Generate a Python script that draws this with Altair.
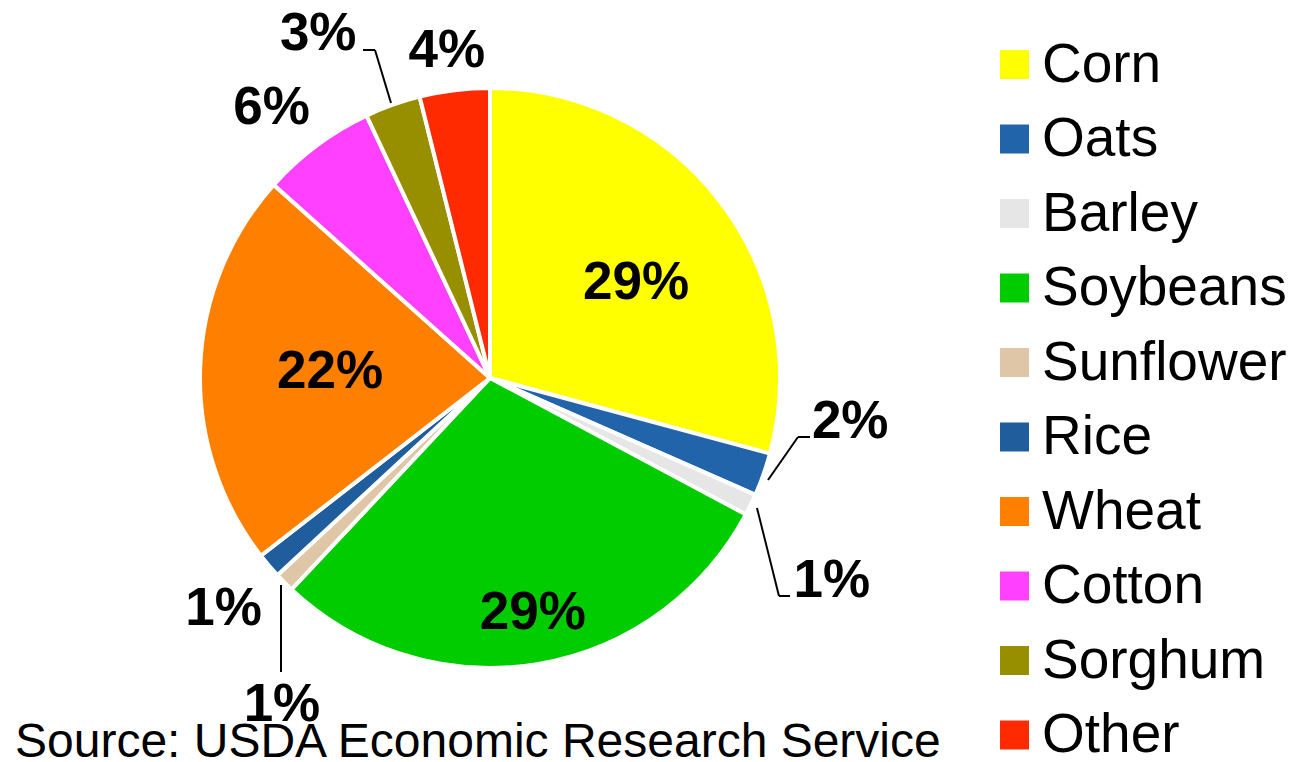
import altair as alt
import pandas as pd

# ---- data ----
crops = ["Corn", "Oats", "Barley", "Soybeans", "Sunflower", "Rice",
         "Wheat", "Cotton", "Sorghum", "Other"]
shares = [29.2, 2.4, 1.2, 29.2, 1.1, 1.4, 22.1, 6.4, 3.1, 3.9]
labels = ["29%", "2%", "1%", "29%", "1%", "1%", "22%", "6%", "3%", "4%"]
colors = ["#FFFF00", "#2264AA", "#E6E6E6", "#00CC00", "#DFC6A7", "#1F5D9C",
          "#FF7F00", "#FF40FF", "#978F00", "#FF2A00"]
source_text = "Source: USDA Economic Research Service"

df = pd.DataFrame({"crop": crops, "share": shares, "label": labels,
                   "idx": list(range(len(crops)))})

# ---- layout / style ----
FONT = "Liberation Sans"
CX, CY, R = 482, 370, 290
# label placement: (radius, dx, dy)
label_layout = {
    "Corn": (174, 8, 11),
    "Oats": (330, 49, -66),
    "Barley": (330, 45, 59),
    "Soybeans": (238, 4, 0),
    "Sunflower": (330, 26, 94),
    "Rice": (352, 2, 3),
    "Wheat": (160, 0, 0),
    "Cotton": (347, -11, 8),
    "Sorghum": (330, -61, -33),
    "Other": (329, -3, 0),
}
leader_segments = [
    (760, 472, 790, 429), (790, 429, 802, 429),   # Oats
    (749, 500, 771, 588), (771, 588, 782, 588),   # Barley
    (273, 577, 273, 664),                         # Sunflower
    (383, 95, 367, 42), (367, 42, 355, 42),       # Sorghum
]

base = alt.Chart(df)
theta_scale = alt.Scale(domain=[0, 100])

pie = base.mark_arc(outerRadius=R, stroke="white", strokeWidth=4).encode(
    x=alt.value(CX), y=alt.value(CY),
    theta=alt.Theta("share:Q", stack=True, scale=theta_scale),
    color=alt.Color(
        "crop:N", sort=crops,
        scale=alt.Scale(domain=crops, range=colors),
        legend=alt.Legend(
            title=None, orient="none", legendX=979, legendY=29,
            symbolType="square", symbolSize=841, symbolStrokeWidth=0,
            labelFontSize=55, labelFont=FONT, labelColor="black",
            rowPadding=18.5, labelOffset=0, padding=0, labelLimit=0,
        ),
    ),
    order=alt.Order("idx:Q"),
)

texts = []
for c, (r, dx, dy) in label_layout.items():
    texts.append(
        base.transform_window(
            cum="sum(share)", sort=[alt.SortField("idx")], frame=[None, 0]
        ).transform_calculate(
            mid="datum.cum - datum.share / 2"
        ).transform_filter(
            alt.datum.crop == c
        ).mark_text(
            radius=r, dx=dx, dy=dy, fontSize=53, fontWeight="bold", font=FONT,
            align="center", baseline="middle", color="black",
        ).encode(
            x=alt.value(CX), y=alt.value(CY),
            theta=alt.Theta("mid:Q", stack=None, scale=theta_scale),
            text="label:N",
        )
    )

rules = [
    alt.Chart(alt.Data(values=[{}])).mark_rule(color="black", strokeWidth=2).encode(
        x=alt.value(x1), y=alt.value(y1), x2=alt.value(x2), y2=alt.value(y2)
    )
    for (x1, y1, x2, y2) in leader_segments
]

source = alt.Chart(alt.Data(values=[{}])).mark_text(
    align="left", baseline="alphabetic", fontSize=48, font=FONT, color="black"
).encode(x=alt.value(7), y=alt.value(749), text=alt.value(source_text))

chart = alt.layer(pie, *rules, *texts, source).properties(
    width=1275, height=748, padding=0
).configure_view(stroke=None)

chart.save("out.html", embed_options={"renderer": "svg", "actions": False})
